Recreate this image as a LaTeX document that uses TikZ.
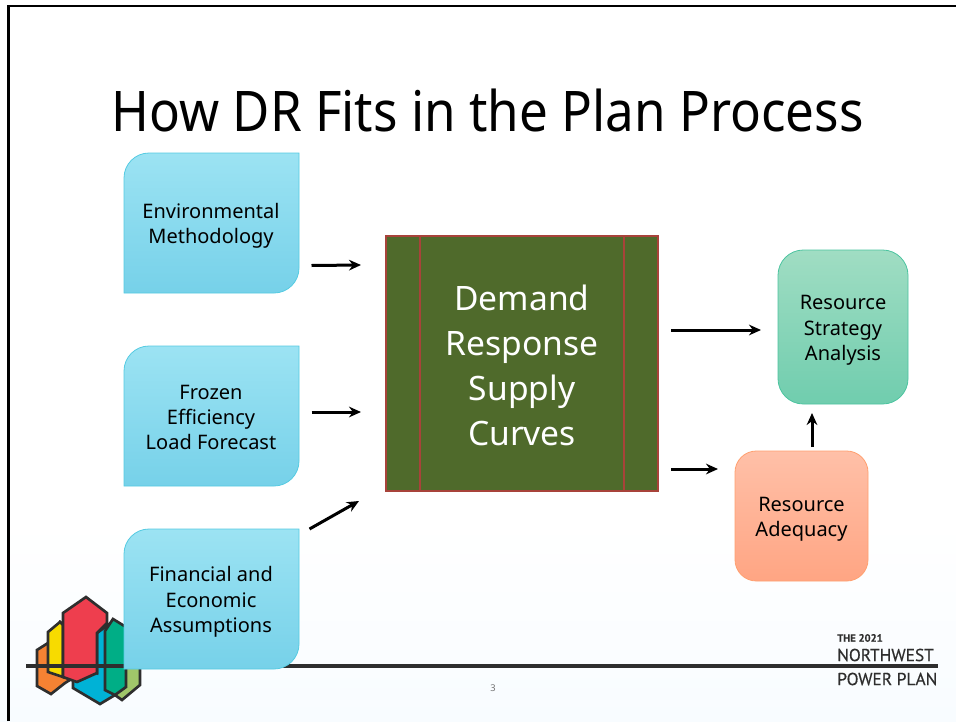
\documentclass[tikz,border=0pt]{standalone}
\usepackage{fontspec}
\setmainfont{Noto Sans}
\newfontfamily\titlefont[FakeStretch=0.913]{Noto Sans}
\newfontfamily\logofont[FakeBold=0.4]{PT Sans}
\definecolor{inkline}{HTML}{2E2E2E}
\definecolor{drgreen}{HTML}{4F6A2B}
\definecolor{drborder}{HTML}{A8433A}
\definecolor{slidefoot}{HTML}{F8FCFF}
\definecolor{inputtop}{HTML}{9CE3F3}
\definecolor{inputbottom}{HTML}{76D1E9}
\definecolor{inputedge}{HTML}{55CBE2}
\definecolor{rsatop}{HTML}{A0DDC3}
\definecolor{rsabottom}{HTML}{70CDAE}
\definecolor{rsaedge}{HTML}{4CC4A0}
\definecolor{ratop}{HTML}{FFC0A8}
\definecolor{rabottom}{HTML}{FFA583}
\definecolor{raedge}{HTML}{FFA070}
\definecolor{logored}{HTML}{EE3E4E}
\definecolor{logoyellow}{HTML}{F7DB00}
\definecolor{logoorange}{HTML}{F58233}
\definecolor{logoblue}{HTML}{00B2D6}
\definecolor{logoteal}{HTML}{00AE86}
\definecolor{logolime}{HTML}{A0C66A}
\usetikzlibrary{arrows.meta}
\tikzset{
    flow/.style = {draw=black, line width=2.25pt, -{Stealth[length=9pt,width=8pt]}},
    inputfill/.style = {draw=inputedge, line width=.6pt, top color=inputtop, bottom color=inputbottom},
    boxtext/.style = {align=center, font=\fontsize{15}{19}\selectfont, inner sep=0pt, outer sep=0pt},
    logoline/.style = {draw=inkline, line width=2pt, line join=miter},
    drline/.style = {draw=drborder, line width=1pt},
}
% pushes a box's text down a little
\newcommand{\liftline}{\rule{0pt}{16pt}}
% one of the three input boxes: name, top edge, text
\newcommand{\inputbox}[3]{
    \path[inputfill] (124,#2+70) [rounded corners=18.75pt] -- (124,#2) [sharp corners] -- (299,#2) -- (299,#2+70)
        [rounded corners=18.75pt] -- (299,#2+140) [sharp corners] -- (124,#2+140) -- cycle;
    \node[boxtext, minimum width=131.25pt, minimum height=105pt] (#1) at (211,#2+70) {\liftline #3};
}
\begin{document}
\begin{tikzpicture}[x=0.75pt, y=-0.75pt]
    \useasboundingbox (0,0) rectangle (956,721);
    \fill[white] (0,0) rectangle (956,721);
    \shade[top color=white, bottom color=slidefoot] (0,520) rectangle (956,721);
    \draw[black, line width=2pt] (8.7,721) -- (8.7,6) -- (956,6);

    \node[font=\titlefont\fontsize{42}{50}\selectfont] (title) at (487.5,110) {How DR Fits in the Plan Process};

    % logo and footer rule
    \fill[logoline, fill=logolime] (120,660) -- (140,660) -- (140,685) -- (122,700) -- (115,695) -- cycle;
    \fill[logoline, fill=logoblue] (97,633) -- (108,625) -- (108,690) -- (115,695) -- (100,704) -- (73,688) -- (73,660) -- (97,673) -- cycle;
    \fill[logoline, fill=logoteal] (105,631) -- (113,619) -- (126,627) -- (126,687) -- (115,695) -- (105,690) -- cycle;
    \fill[logoline, fill=logoorange] (37,650) -- (48,643) -- (60,622) -- (73,631) -- (73,678) -- (65,683) -- (51,694) -- (37,686) -- cycle;
    \fill[logoline, fill=logoyellow] (48,632) -- (60,622) -- (63,625) -- (63,677) -- (48,672) -- cycle;
    \fill[logoline, fill=logored] (63,613) -- (86,597) -- (107,613) -- (107,623) -- (97,633) -- (97,673) -- (77,682) -- (63,677) -- cycle;
    \draw[inkline, line width=2.4pt] (26,666) -- (938,666);

    \inputbox{env}{153}{Environmental\\Methodology}
    \inputbox{frozen}{346}{Frozen\\Efficiency\\Load Forecast\rule[-3.5pt]{0pt}{1pt}}
    \inputbox{fin}{529}{Financial and\\Economic\\Assumptions}

    \node[drline, fill=drgreen, minimum width=204pt, minimum height=191.25pt,
        inner sep=0pt, outer sep=0pt, text=white, align=center, font=\fontsize{25.2}{33.75}\selectfont] (drsc) at (522,363.5)
        {\rule{0pt}{21.5pt}Demand\\Response\\Supply\\Curves};
    \draw[drline] ([xshift=25.5pt]drsc.north west) -- ([xshift=25.5pt]drsc.south west);
    \draw[drline] ([xshift=-25.5pt]drsc.north east) -- ([xshift=-25.5pt]drsc.south east);

    \node[boxtext, draw=rsaedge, line width=.6pt, rounded corners=19pt, top color=rsatop, bottom color=rsabottom,
        minimum width=97.5pt, minimum height=115.5pt] (rsa) at (843,327) {\liftline Resource\\Strategy\\Analysis};
    \node[boxtext, draw=raedge, line width=.6pt, rounded corners=16pt, top color=ratop, bottom color=rabottom,
        minimum width=99.75pt, minimum height=97.5pt] (ra) at (801.5,516) {\liftline Resource\\Adequacy};

    \draw[flow] ([shift={(13,42.5)}]env.east) -- ([shift={(-25,-98.5)}]drsc.west);
    \draw[flow] ([shift={(13,-4)}]frozen.east) -- ([shift={(-25,48.5)}]drsc.west);
    \draw[flow] ([shift={(11,-70)}]fin.east) -- ([shift={(-27,137.5)}]drsc.west);
    \draw[flow] ([shift={(13,-33.5)}]drsc.east) -- ([shift={(-17,3)}]rsa.west);
    \draw[flow] ([shift={(13,105.5)}]drsc.east) -- ([shift={(-17,-47)}]ra.west);
    \draw[flow] ([shift={(10.5,-4)}]ra.north) -- ([shift={(-31,9)}]rsa.south);

    \node[font=\fontsize{7}{8}\selectfont, text=black!55] (pagenum) at (493,688) {3};
    \node[anchor=west, inner sep=0pt, text=inkline, font=\logofont\bfseries\fontsize{8}{9}\selectfont] (logoyear) at (837,638) {THE 2021};
    \node[anchor=west, inner sep=0pt, text=inkline, font=\logofont\fontsize{13}{15}\selectfont] (logotop) at (837,655) {NORTHWEST};
    \node[anchor=west, inner sep=0pt, text=inkline, font=\logofont\fontsize{13}{15}\selectfont] (logobottom) at (837,679) {POWER PLAN};
\end{tikzpicture}
\end{document}
